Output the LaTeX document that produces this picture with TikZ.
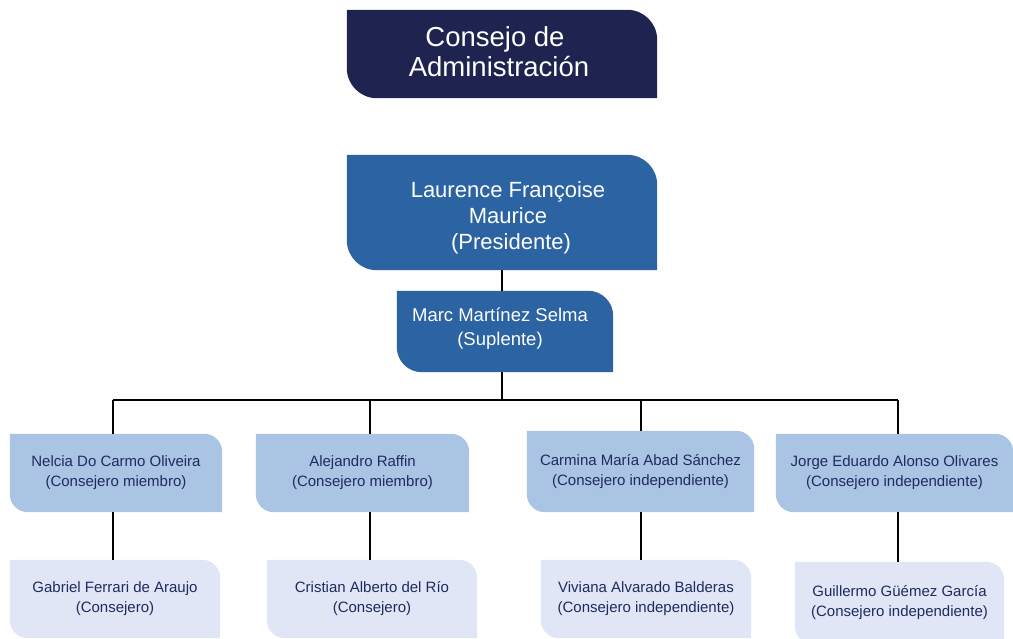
\documentclass[tikz,border=0pt]{standalone}
\usepackage{fontspec}
\setmainfont{Liberation Sans}
\usetikzlibrary{backgrounds}

\definecolor{navy}{HTML}{1E2350}
\definecolor{midblue}{HTML}{2B63A3}
\definecolor{lightblue}{HTML}{AAC5E4}
\definecolor{paleblue}{HTML}{E1E6F6}
\definecolor{inkblue}{HTML}{1F2B5E}

% fill behind a node: round top right and bottom left corners only
\newcommand{\tabfill}[3]{%
  \fill[#2] (#1.north west) -- ([xshift=-#3]#1.north east)
    arc[start angle=90,end angle=0,radius=#3] -- (#1.south east)
    -- ([xshift=#3]#1.south west)
    arc[start angle=270,end angle=180,radius=#3] -- cycle;}

\tikzset{
  orgbox/.style={inner sep=0pt, align=center},
  boardbox/.style={orgbox, text=white, font=\fontsize{27.5}{30}\selectfont},
  chairbox/.style={orgbox, text=white, font=\fontsize{22}{26}\selectfont},
  deputybox/.style={orgbox, text=white, font=\fontsize{18.5}{24}\selectfont},
  memberbox/.style={orgbox, text=inkblue, font=\fontsize{15}{20}\selectfont},
  wire/.style={draw=black, line width=1.5pt}
}

\begin{document}
\begin{tikzpicture}[x=1pt,y=1pt]
\clip (0,0) rectangle (1013,639);

\node[boardbox, minimum width=310, minimum height=88] (cons) at (502,585)
  {\hspace*{-14pt}Consejo de\\\hspace*{-6pt}Administración\rule[-4pt]{0pt}{0pt}};
\node[chairbox, minimum width=310, minimum height=115] (pres) at (502,426.5)
  {\rule{0pt}{26pt}\hspace*{12pt}Laurence Françoise\\\hspace*{12pt}Maurice\\\hspace*{12pt} (Presidente)};
\node[deputybox, minimum width=216, minimum height=81] (supl) at (505,307.5)
  {Marc Martínez Selma\hspace*{10pt}\\(Suplente)\hspace*{10pt}\rule[-9pt]{0pt}{0pt}};

\node[memberbox, minimum width=212, minimum height=78] (nel) at (116,166)
  {Nelcia Do Carmo Oliveira\\(Consejero miembro)};
\node[memberbox, minimum width=213, minimum height=78] (ale) at (362.5,166)
  {Alejandro Raffin\\(Consejero miembro)};
\node[memberbox, minimum width=227, minimum height=81] (car) at (640.5,167.5)
  {Carmina María Abad Sánchez\\(Consejero independiente)};
\node[memberbox, minimum width=237, minimum height=78] (jor) at (894.5,166)
  {Jorge Eduardo Alonso Olivares\\(Consejero independiente)};

\node[memberbox, minimum width=210, minimum height=78] (gab) at (115,40)
  {Gabriel Ferrari de Araujo\\(Consejero)};
\node[memberbox, minimum width=210, minimum height=78] (cri) at (372,40)
  {Cristian Alberto del Río\\(Consejero)};
\node[memberbox, minimum width=210, minimum height=78] (viv) at (646,40)
  {Viviana Alvarado Balderas\\(Consejero independiente)};
\node[memberbox, minimum width=209, minimum height=82] (gui) at (899.5,36)
  {Guillermo Güémez García\\(Consejero independiente)};

\coordinate (bus) at (502,239);
\coordinate (b1) at (113,239);
\coordinate (b2) at (370,239);
\coordinate (b3) at (641,239);
\coordinate (b4) at (898,239);

\begin{scope}[on background layer]
  \tabfill{cons}{navy}{30}
  \tabfill{pres}{midblue}{30}
  \tabfill{supl}{midblue}{25}
  \foreach \n in {nel,ale,car,jor} {\tabfill{\n}{lightblue}{18}}
  \foreach \n in {gab,cri,viv,gui} {\tabfill{\n}{paleblue}{18}}

  \draw[wire] (pres.south) -- (pres.south |- supl.north);
  \draw[wire] (pres.south |- supl.south) -- (bus);
  \draw[wire] (b1) -- (b4);
  \foreach \t/\m/\b in {b1/nel/gab, b2/ale/cri, b3/car/viv, b4/jor/gui} {
    \draw[wire] (\t) -- (\t |- \m.north);
    \draw[wire] (\t |- \m.south) -- (\t |- \b.north);
  }
\end{scope}
\end{tikzpicture}
\end{document}
